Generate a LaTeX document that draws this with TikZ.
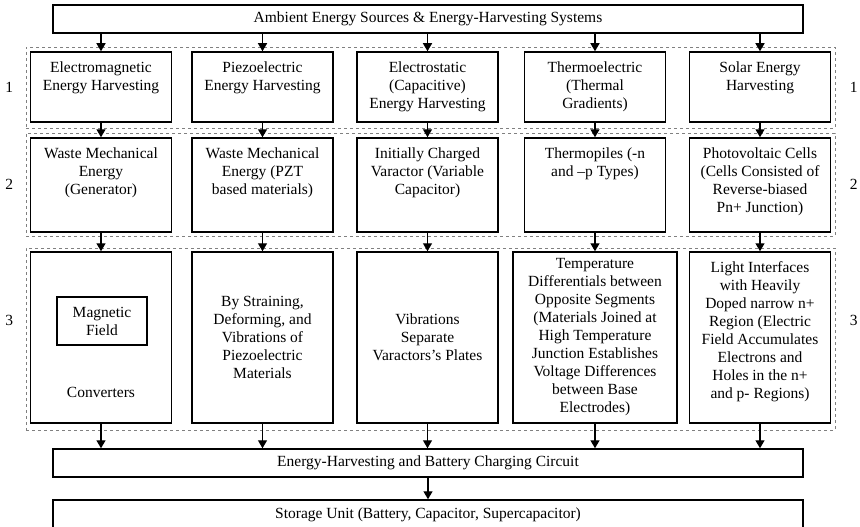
\documentclass[tikz,border=0pt]{standalone}
\usepackage{fontspec}
\setmainfont{Liberation Serif}
\usetikzlibrary{arrows.meta,positioning}

\begin{document}
\begin{tikzpicture}[x=1pt,y=-1pt,
		every node/.style={font=\fontsize{15.5}{18}\selectfont},
		box/.style={draw,line width=1.5pt,minimum width=141pt,minimum height=#1,inner sep=0pt,align=center},
		box/.default=70pt,
		wide/.style={draw,line width=1.5pt,minimum width=750pt,minimum height=28pt,inner sep=0pt},
		txt/.style={align=center,anchor=north,inner sep=0pt},
		group/.style={draw=gray,dashed,line width=0.8pt,minimum width=809pt,minimum height=#1,inner sep=0pt},
		arr/.style={-{Triangle[length=8pt,width=9pt]},line width=1.4pt}]
	\useasboundingbox (0,0) rectangle (860,527);
	
	\node[wide] (src) at (428,19) {Ambient Energy Sources \& Energy-Harvesting Systems};
	
	\node[group=81pt] (g1) at (430.5,87.5) {};
	\node[group=103pt] (g2) at (430.5,184.5) {};
	\node[group=182pt] (g3) at (430.5,339) {};
	
	\node (l1) [left=9pt of g1] {1};
	\node (r1) [right=11pt of g1] {1};
	\node (l2) [left=9pt of g2] {2};
	\node (r2) [right=11pt of g2] {2};
	\node (l3) [left=9pt of g3,yshift=19pt] {3};
	\node (r3) [right=11pt of g3,yshift=19pt] {3};
	
	% row 1
	\node[box] (em1) at (101,87) {};
	\node[box] (pz1) at (262.5,87) {};
	\node[box] (es1) at (427.5,87) {};
	\node[box] (te1) at (595,87) {};
	\node[box] (so1) at (760,87) {};
	\node[txt] (em1t) at ([yshift=-10pt]em1.north) {Electromagnetic\\Energy Harvesting};
	\node[txt] (pz1t) at ([yshift=-10pt]pz1.north) {Piezoelectric\\Energy Harvesting};
	\node[txt] (es1t) at ([yshift=-10pt]es1.north) {Electrostatic\\(Capacitive)\\Energy Harvesting};
	\node[txt] (te1t) at ([yshift=-10pt]te1.north) {Thermoelectric\\(Thermal\\Gradients)};
	\node[txt] (so1t) at ([yshift=-10pt]so1.north) {Solar Energy\\Harvesting};
	
	% row 2
	\node[box=94pt] (em2) at (101,185) {};
	\node[box=94pt] (pz2) at (262.5,185) {};
	\node[box=94pt] (es2) at (427.5,185) {};
	\node[box=94pt] (te2) at (595,185) {};
	\node[box=94pt] (so2) at (760,185) {};
	\node[txt] (em2t) at ([yshift=-10pt]em2.north) {Waste Mechanical\\Energy\\(Generator)};
	\node[txt] (pz2t) at ([yshift=-10pt]pz2.north) {Waste Mechanical\\Energy (PZT\\based materials)};
	\node[txt] (es2t) at ([yshift=-10pt]es2.north) {Initially Charged\\Varactor (Variable\\Capacitor)};
	\node[txt] (te2t) at ([yshift=-10pt]te2.north) {Thermopiles (-n\\and --p Types)};
	\node[txt] (so2t) at ([yshift=-10pt]so2.north) {Photovoltaic Cells\\(Cells Consisted of\\Reverse-biased\\Pn+ Junction)};
	
	% row 3
	\node[box=171pt] (em3) at (101,337.5) {};
	\node[box=171pt] (pz3) at (262.5,337.5) {By Straining,\\Deforming, and\\Vibrations of\\Piezoelectric\\Materials};
	\node[box=171pt] (es3) at (427.5,337.5) {Vibrations\\Separate\\Varactors's Plates};
	\node[box=171pt,minimum width=164pt] (te3) at (595,337.5) {Temperature\\Differentials between\\Opposite Segments\\(Materials Joined at\\High Temperature\\Junction Establishes\\Voltage Differences\\between Base\\Electrodes)};
	\node[box=171pt] (so3) at (760,337.5) {};
	\node[txt] (so3t) at ([yshift=-10pt]so3.north) {Light Interfaces\\with Heavily\\Doped narrow n+\\Region (Electric\\Field Accumulates\\Electrons and\\Holes in the n+\\and p- Regions)};
	\node[draw,line width=1.2pt,minimum width=90pt,minimum height=48pt,align=center] (mag) at (102,321) {Magnetic\\Field};
	\node (conv) at (101,392) {Converters};
	
	\node[wide] (circ) at (428,463) {Energy-Harvesting and Battery Charging Circuit};
	\node[wide,minimum height=30pt] (stor) at (428,515) {Storage Unit (Battery, Capacitor, Supercapacitor)};
	
	\path[arr]
	(src.south -| em1) edge (em1)
	(src.south -| pz1) edge (pz1)
	(src.south -| es1) edge (es1)
	(src.south -| te1) edge (te1)
	(src.south -| so1) edge (so1)
	(em1) edge (em2)
	(pz1) edge (pz2)
	(es1) edge (es2)
	(te1) edge (te2)
	(so1) edge (so2)
	(em2) edge (em3)
	(pz2) edge (pz3)
	(es2) edge (es3)
	(te2) edge (te3)
	(so2) edge (so3)
	(em3) edge (em3 |- circ.north)
	(pz3) edge (pz3 |- circ.north)
	(es3) edge (es3 |- circ.north)
	(te3) edge (te3 |- circ.north)
	(so3) edge (so3 |- circ.north)
	(circ) edge (stor);
	
\end{tikzpicture}
\end{document}
